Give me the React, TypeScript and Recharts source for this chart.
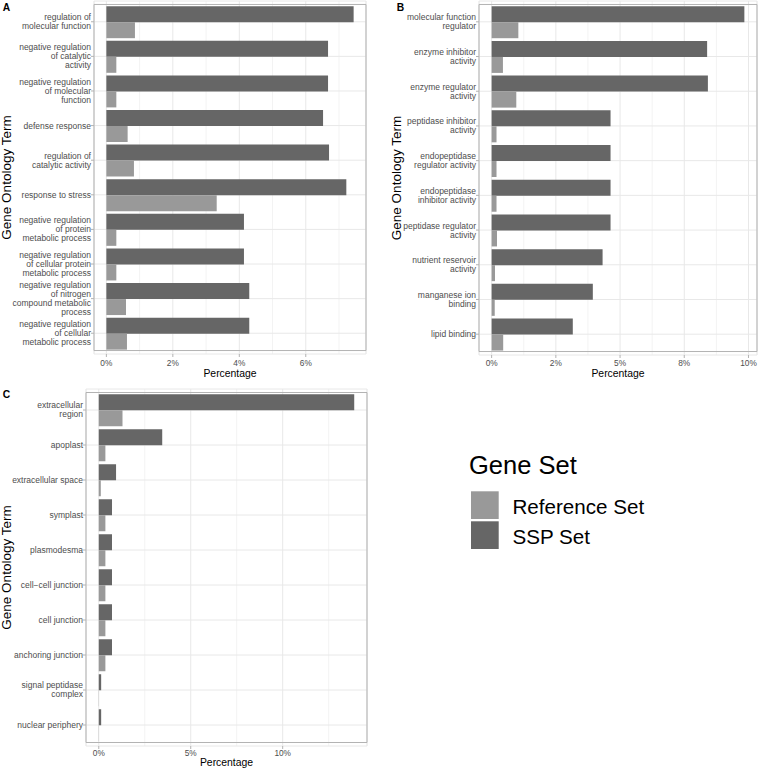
import React from 'react';
import { BarChart, Bar, XAxis, YAxis, CartesianGrid, ReferenceArea, Legend, Label } from 'recharts';

// ---------- Data ----------
const termsA = [
  'regulation of\nmolecular function',
  'negative regulation\nof catalytic\nactivity',
  'negative regulation\nof molecular\nfunction',
  'defense response',
  'regulation of\ncatalytic activity',
  'response to stress',
  'negative regulation\nof protein\nmetabolic process',
  'negative regulation\nof cellular protein\nmetabolic process',
  'negative regulation\nof nitrogen\ncompound metabolic\nprocess',
  'negative regulation\nof cellular\nmetabolic process',
];
const sspA = [7.44, 6.67, 6.67, 6.52, 6.7, 7.22, 4.14, 4.14, 4.3, 4.3];
const refA = [0.86, 0.3, 0.3, 0.64, 0.83, 3.32, 0.3, 0.3, 0.59, 0.62];
const ticksA = [0, 2, 4, 6];
const tickLabelsA = ['0%', '2%', '4%', '6%'];
const minorTicksA = [1, 3, 5, 7];

const termsB = [
  'molecular function\nregulator',
  'enzyme inhibitor\nactivity',
  'enzyme regulator\nactivity',
  'peptidase inhibitor\nactivity',
  'endopeptidase\nregulator activity',
  'endopeptidase\ninhibitor activity',
  'peptidase regulator\nactivity',
  'nutrient reservoir\nactivity',
  'manganese ion\nbinding',
  'lipid binding',
];
const sspB = [9.84, 8.39, 8.42, 4.63, 4.63, 4.63, 4.63, 4.32, 3.94, 3.16];
const refB = [1.04, 0.44, 0.96, 0.19, 0.19, 0.19, 0.21, 0.13, 0.12, 0.45];
const ticksB = [0, 2.5, 5, 7.5, 10];
const tickLabelsB = ['0%', '2%', '5%', '8%', '10%'];
const minorTicksB = [1.25, 3.75, 6.25, 8.75];

const termsC = [
  'extracellular\nregion',
  'apoplast',
  'extracellular space',
  'symplast',
  'plasmodesma',
  'cell\u2212cell junction',
  'cell junction',
  'anchoring junction',
  'signal peptidase\ncomplex',
  'nuclear periphery',
];
const sspC = [13.89, 3.45, 0.94, 0.72, 0.72, 0.72, 0.72, 0.72, 0.13, 0.13];
const refC = [1.29, 0.36, 0.11, 0.36, 0.36, 0.36, 0.36, 0.36, 0.01, 0.01];
const ticksC = [0, 5, 10];
const tickLabelsC = ['0%', '5%', '10%'];
const minorTicksC = [2.5, 7.5, 12.5];

const SERIES_SSP = 'SSP Set';
const SERIES_REF = 'Reference Set';
const LEGEND_TITLE = 'Gene Set';
const Y_TITLE = 'Gene Ontology Term';
const X_TITLE = 'Percentage';

// ---------- Styles ----------
const DARK = '#666666';
const LIGHT = '#999999';
const BORDER = '#b3b3b3';
const GRID_MAJOR = '#e8e8e8';
const GRID_MINOR = '#f3f3f3';
const TICK_TEXT = '#4d4d4d';
const FONT = '"Liberation Sans", Arial, Helvetica, sans-serif';

const YTick = (props: any) => {
  const { x, y, payload } = props;
  const lines = String(payload.value).split('\n');
  const lh = 9;
  const y0 = y - ((lines.length - 1) * lh) / 2;
  return (
    <text x={x} y={y0} textAnchor="end" fontSize={8.5} fill={TICK_TEXT}>
      {lines.map((l, i) => (
        <tspan key={i} x={x} y={y0 + i * lh} dy="0.35em">
          {l}
        </tspan>
      ))}
    </text>
  );
};

const renderLegend = (props: any) => {
  const items = [...(props.payload || [])].sort((a: any, b: any) =>
    String(a.value).localeCompare(String(b.value))
  );
  return (
    <svg width={280} height={120} style={{ display: 'block', overflow: 'visible' }}>
      <text x={4} y={29} fontSize={25.5} fill="#000">
        {LEGEND_TITLE}
      </text>
      {items.map((it: any, i: number) => (
        <g key={String(it.value)}>
          <rect x={6} y={46.3 + i * 30} width={27.7} height={27.7} fill={it.color} />
          <text x={47.5} y={68.5 + i * 30} fontSize={20.6} fill="#000">
            {it.value}
          </text>
        </g>
      ))}
    </svg>
  );
};

type PanelProps = {
  terms: string[];
  ssp: number[];
  refVals: number[];
  ticks: number[];
  tickLabels: string[];
  minorTicks: number[];
  width: number;
  height: number;
  margin: { top: number; right: number; bottom: number; left: number };
  yAxisWidth: number;
  xAxisHeight: number;
  yTitleX: number;
  xTitleDy: number;
  xTickMargin: number;
  withLegend?: boolean;
};

function Panel(p: PanelProps) {
  const data = p.terms.map((t, i) => ({ term: t, sspPct: p.ssp[i], refPct: p.refVals[i] }));
  const maxV = Math.max(...p.ssp, ...p.refVals);
  const domain: [number, number] = [-0.05 * maxV, 1.05 * maxV];
  const plotTop = p.margin.top;
  const plotH = p.height - p.margin.top - p.margin.bottom - p.xAxisHeight;
  const pad = plotH / 102;
  const plotLeft = p.margin.left + p.yAxisWidth;
  const plotW = p.width - plotLeft - p.margin.right;

  const yTitle = (lp: any) => {
    const vb = lp && lp.viewBox;
    const cy = vb && typeof vb.y === 'number' ? vb.y + vb.height / 2 : plotTop + plotH / 2;
    const cx = p.yTitleX;
    return (
      <text
        x={cx}
        y={cy}
        transform={`rotate(-90 ${cx} ${cy})`}
        textAnchor="middle"
        dy="0.35em"
        fontSize={13.5}
        fill="#000"
      >
        {Y_TITLE}
      </text>
    );
  };

  const xTitle = (lp: any) => {
    const vb = lp && lp.viewBox;
    const cx = vb && typeof vb.x === 'number' ? vb.x + vb.width / 2 : plotLeft + plotW / 2;
    const by = (vb && typeof vb.y === 'number' ? vb.y : plotTop + plotH) + p.xTitleDy;
    return (
      <text x={cx} y={by} textAnchor="middle" fontSize={10.4} fill="#000">
        {X_TITLE}
      </text>
    );
  };

  return (
    <BarChart
      width={p.width}
      height={p.height}
      data={data}
      layout="vertical"
      margin={p.margin}
      barCategoryGap="5%"
      barGap={0}
    >
      <CartesianGrid xAxisId="minor" horizontal={false} stroke={GRID_MINOR} />
      <CartesianGrid stroke={GRID_MAJOR} />
      <XAxis
        xAxisId="minor"
        type="number"
        domain={domain}
        ticks={p.minorTicks}
        allowDataOverflow
        hide
      />
      <XAxis
        type="number"
        domain={domain}
        ticks={p.ticks}
        allowDataOverflow
        height={p.xAxisHeight}
        axisLine={false}
        tickLine={{ stroke: BORDER }}
        tickSize={3}
        tickMargin={p.xTickMargin}
        tick={{ fontSize: 8.3, fill: TICK_TEXT }}
        tickFormatter={(v: number, i: number) => p.tickLabels[i] ?? String(v)}
      >
        <Label content={xTitle} />
      </XAxis>
      <YAxis
        type="category"
        dataKey="term"
        width={p.yAxisWidth}
        axisLine={false}
        tickLine={{ stroke: BORDER }}
        tickSize={3}
        tickMargin={0}
        interval={0}
        padding={{ top: pad, bottom: pad }}
        tick={<YTick />}
      >
        <Label content={yTitle} />
      </YAxis>
      <Bar dataKey="sspPct" name={SERIES_SSP} fill={DARK} isAnimationActive={false} />
      <Bar dataKey="refPct" name={SERIES_REF} fill={LIGHT} isAnimationActive={false} />
      <ReferenceArea x1={domain[0]} x2={domain[1]} fill="none" stroke={BORDER} strokeWidth={1} />
      {p.withLegend ? (
        <Legend
          layout="vertical"
          align="center"
          verticalAlign="middle"
          content={renderLegend}
          wrapperStyle={{ left: 465, top: 65, width: 280, height: 120 }}
        />
      ) : null}
    </BarChart>
  );
}

export default function App() {
  return (
    <div
      style={{
        position: 'absolute',
        left: 0,
        top: 0,
        width: 758,
        height: 769,
        background: '#fff',
        fontFamily: FONT,
        overflow: 'hidden',
      }}
    >
      <div style={{ position: 'absolute', left: 0, top: 0 }}>
        <Panel
          terms={termsA}
          ssp={sspA}
          refVals={refA}
          ticks={ticksA}
          tickLabels={tickLabelsA}
          minorTicks={minorTicksA}
          width={380}
          height={380}
          margin={{ top: 1, right: 14, bottom: 0, left: 0 }}
          yAxisWidth={94}
          xAxisHeight={26}
          yTitleX={6.5}
          xTitleDy={23}
          xTickMargin={3}
        />
      </div>
      <div style={{ position: 'absolute', left: 380, top: 0 }}>
        <Panel
          terms={termsB}
          ssp={sspB}
          refVals={refB}
          ticks={ticksB}
          tickLabels={tickLabelsB}
          minorTicks={minorTicksB}
          width={378}
          height={380}
          margin={{ top: 1, right: 1, bottom: 0, left: 0 }}
          yAxisWidth={99}
          xAxisHeight={25}
          yTitleX={16}
          xTitleDy={21.5}
          xTickMargin={2}
        />
      </div>
      <div style={{ position: 'absolute', left: 0, top: 380 }}>
        <Panel
          terms={termsC}
          ssp={sspC}
          refVals={refC}
          ticks={ticksC}
          tickLabels={tickLabelsC}
          minorTicks={minorTicksC}
          width={758}
          height={389}
          margin={{ top: 9, right: 391, bottom: 0, left: 0 }}
          yAxisWidth={86}
          xAxisHeight={23}
          yTitleX={6}
          xTitleDy={19.5}
          xTickMargin={1}
          withLegend
        />
      </div>
      <svg
        width={758}
        height={769}
        style={{ position: 'absolute', left: 0, top: 0, pointerEvents: 'none' }}
      >
        <text x={2.7} y={10.7} fontSize={10.3} fontWeight="bold" fill="#000">A</text>
        <text x={396.7} y={10.7} fontSize={10.3} fontWeight="bold" fill="#000">B</text>
        <text x={2.7} y={398.3} fontSize={10.3} fontWeight="bold" fill="#000">C</text>
      </svg>
    </div>
  );
}
